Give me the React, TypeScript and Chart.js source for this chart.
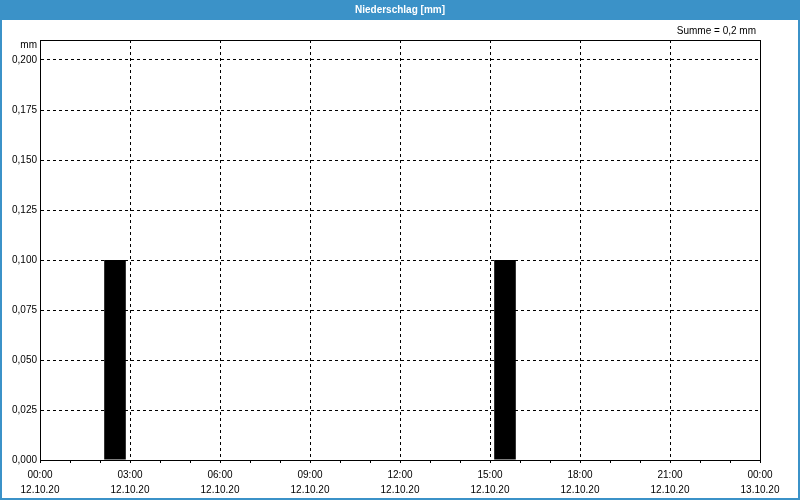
import React, { useEffect, useRef } from 'react';
import { Chart, registerables } from 'chart.js';

Chart.register(...registerables);

const TITLE = 'Niederschlag [mm]';
const Y_UNIT = 'mm';
const SUM_LABEL_PREFIX = 'Summe = ';
const HOURS = [0, 1, 2, 3, 4, 5, 6, 7, 8, 9, 10, 11, 12, 13, 14, 15, 16, 17, 18, 19, 20, 21, 22, 23];
const PRECIP = [0, 0, 0.1, 0, 0, 0, 0, 0, 0, 0, 0, 0, 0, 0, 0, 0.1, 0, 0, 0, 0, 0, 0, 0, 0];
const X_TICK_TIMES = ['00:00', '03:00', '06:00', '09:00', '12:00', '15:00', '18:00', '21:00', '00:00'];
const X_TICK_DATES = ['12.10.20', '12.10.20', '12.10.20', '12.10.20', '12.10.20', '12.10.20', '12.10.20', '12.10.20', '13.10.20'];
const Y_MIN = 0;
const Y_MAX = 0.21;
const Y_STEP = 0.025;
const Y_LAST_TICK = 0.2;

const FONT = 'Liberation Sans';
const BLUE = '#3b92c8';

export default function App() {
  const ref = useRef<HTMLCanvasElement | null>(null);

  useEffect(() => {
    const canvas = ref.current;
    if (!canvas) return;
    const total = PRECIP.reduce((a, b) => a + b, 0);
    const sumText = SUM_LABEL_PREFIX + total.toFixed(1).replace('.', ',') + ' mm';

    const framePlugin = {
      id: 'frame',
      beforeDraw(chart: any) {
        const ctx = chart.ctx;
        const w = chart.width;
        const h = chart.height;
        ctx.save();
        ctx.fillStyle = '#ffffff';
        ctx.fillRect(0, 0, w, h);
        ctx.fillStyle = BLUE;
        ctx.fillRect(0, 0, w, 20);
        ctx.strokeStyle = BLUE;
        ctx.lineWidth = 2;
        ctx.strokeRect(1, 1, w - 2, h - 2);
        ctx.fillStyle = '#ffffff';
        ctx.font = `bold 10px "${FONT}"`;
        ctx.textAlign = 'center';
        ctx.textBaseline = 'middle';
        ctx.fillText(TITLE, w / 2, 10);
        ctx.fillStyle = '#000000';
        ctx.font = `10px "${FONT}"`;
        ctx.textAlign = 'right';
        ctx.fillText(sumText, 756, 31);
        const a = chart.chartArea;
        ctx.fillText(Y_UNIT, a.left - 3, a.top + 5);
        ctx.restore();
      },
      afterDraw(chart: any) {
        const ctx = chart.ctx;
        const a = chart.chartArea;
        ctx.save();
        ctx.strokeStyle = '#000000';
        ctx.lineWidth = 1;
        ctx.setLineDash([]);
        ctx.strokeRect(Math.round(a.left) + 0.5, Math.round(a.top) + 0.5, Math.round(a.right - a.left), Math.round(a.bottom - a.top));
        ctx.restore();
      },
    };

    const chart = new Chart(canvas, {
      type: 'bar',
      data: {
        datasets: [
          {
            data: HOURS.map((h, i) => ({ x: h + 0.5, y: PRECIP[i] })),
            backgroundColor: '#000000',
            borderWidth: 0,
            barPercentage: 0.72,
            categoryPercentage: 1,
          },
        ],
      },
      options: {
        responsive: false,
        animation: false,
        events: [],
        layout: { padding: { top: 40, right: 40, left: 0, bottom: 0 } },
        plugins: { legend: { display: false }, tooltip: { enabled: false }, title: { display: false } },
        scales: {
          x: {
            type: 'linear',
            min: 0,
            max: 24,
            offset: false,
            afterFit(scale: any) {
              scale.height = 40;
            },
            ticks: {
              stepSize: 1,
              autoSkip: false,
              maxRotation: 0,
              minRotation: 0,
              padding: 5,
              color: '#000000',
              font: { family: FONT, size: 10, lineHeight: 1.5 },
              callback(value: any) {
                const v = Number(value);
                if (v % 3 !== 0) return '';
                const i = v / 3;
                return [X_TICK_TIMES[i], X_TICK_DATES[i]];
              },
            },
            grid: {
              display: true,
              offset: false,
              drawOnChartArea: true,
              drawTicks: true,
              tickLength: 3,
              tickColor: '#000000',
              tickWidth: 1,
              lineWidth: 1,
              color: (ctx: any) => {
                const v = ctx.tick ? ctx.tick.value : 0;
                return v % 3 === 0 && v > 0 && v < 24 ? '#000000' : 'rgba(0,0,0,0)';
              },
            },
            border: { display: true, color: '#000000', width: 1, dash: [3, 3] },
          },
          y: {
            type: 'linear',
            min: Y_MIN,
            max: Y_MAX,
            afterFit(scale: any) {
              scale.width = 40;
            },
            afterBuildTicks(scale: any) {
              scale.ticks = scale.ticks.filter((t: any) => t.value <= Y_LAST_TICK + 1e-9);
            },
            ticks: {
              stepSize: Y_STEP,
              padding: 3,
              color: '#000000',
              font: { family: FONT, size: 10 },
              callback(value: any) {
                return Number(value).toFixed(3).replace('.', ',');
              },
            },
            grid: {
              display: true,
              drawTicks: false,
              lineWidth: 1,
              color: (ctx: any) => (ctx.tick && ctx.tick.value > 0 ? '#000000' : 'rgba(0,0,0,0)'),
            },
            border: { display: true, color: '#000000', width: 1, dash: [3, 3] },
          },
        },
      },
      plugins: [framePlugin],
    } as any);

    return () => chart.destroy();
  }, []);

  return (
    <div style={{ position: 'fixed', left: 0, top: 0, width: 800, height: 500 }}>
      <canvas ref={ref} width={800} height={500} style={{ display: 'block', width: 800, height: 500 }} />
    </div>
  );
}
